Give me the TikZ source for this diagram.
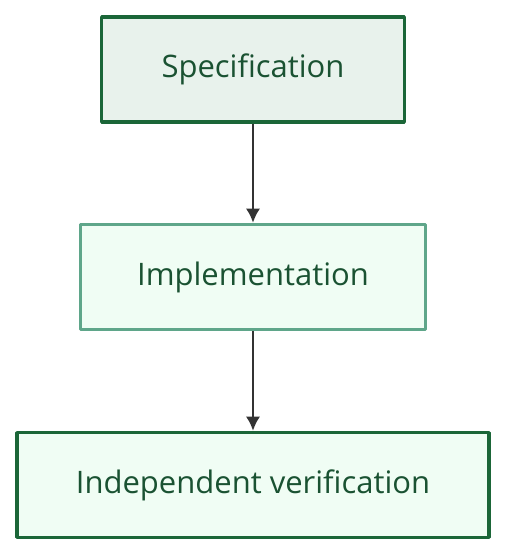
\documentclass[tikz,border=0pt]{standalone}
\usepackage{fontspec}
\setmainfont[Ligatures=NoCommon]{Open Sans}
\usetikzlibrary{arrows.meta}
\definecolor{darkline}{HTML}{1B6638}
\definecolor{lightline}{HTML}{5FA68A}
\definecolor{specfill}{HTML}{E8F2EC}
\definecolor{stepfill}{HTML}{F0FDF4}
\definecolor{labeltext}{HTML}{1A5232}
\definecolor{edgecol}{HTML}{333333}
\tikzset{
  flowbox/.style={rectangle,line width=3.5bp,text=labeltext,font=\fontsize{31bp}{36bp}\selectfont,inner sep=0pt,minimum height=105bp},
  flowedge/.style={-{Latex[length=14bp,width=14bp]},edgecol,line width=2bp},
}
\begin{document}
\begin{tikzpicture}[>=latex,line join=bevel,]
    \useasboundingbox (0bp,0bp) rectangle (506bp,555bp);
    %%
    \node (spec) at (253.0bp,485.5bp) [flowbox,draw=darkline,fill=specfill,minimum width=303bp] {Specification};
    \node (impl) at (253.0bp,278.0bp) [flowbox,draw=lightline,fill=stepfill,minimum width=345bp] {Implementation};
    \node (verif) at (253.0bp,70.0bp) [flowbox,draw=darkline,fill=stepfill,minimum width=472bp] {Independent verification};
    \draw [flowedge] (spec) -- (impl);
    \draw [flowedge] (impl) -- (verif);
    %
\end{tikzpicture}
\end{document}
